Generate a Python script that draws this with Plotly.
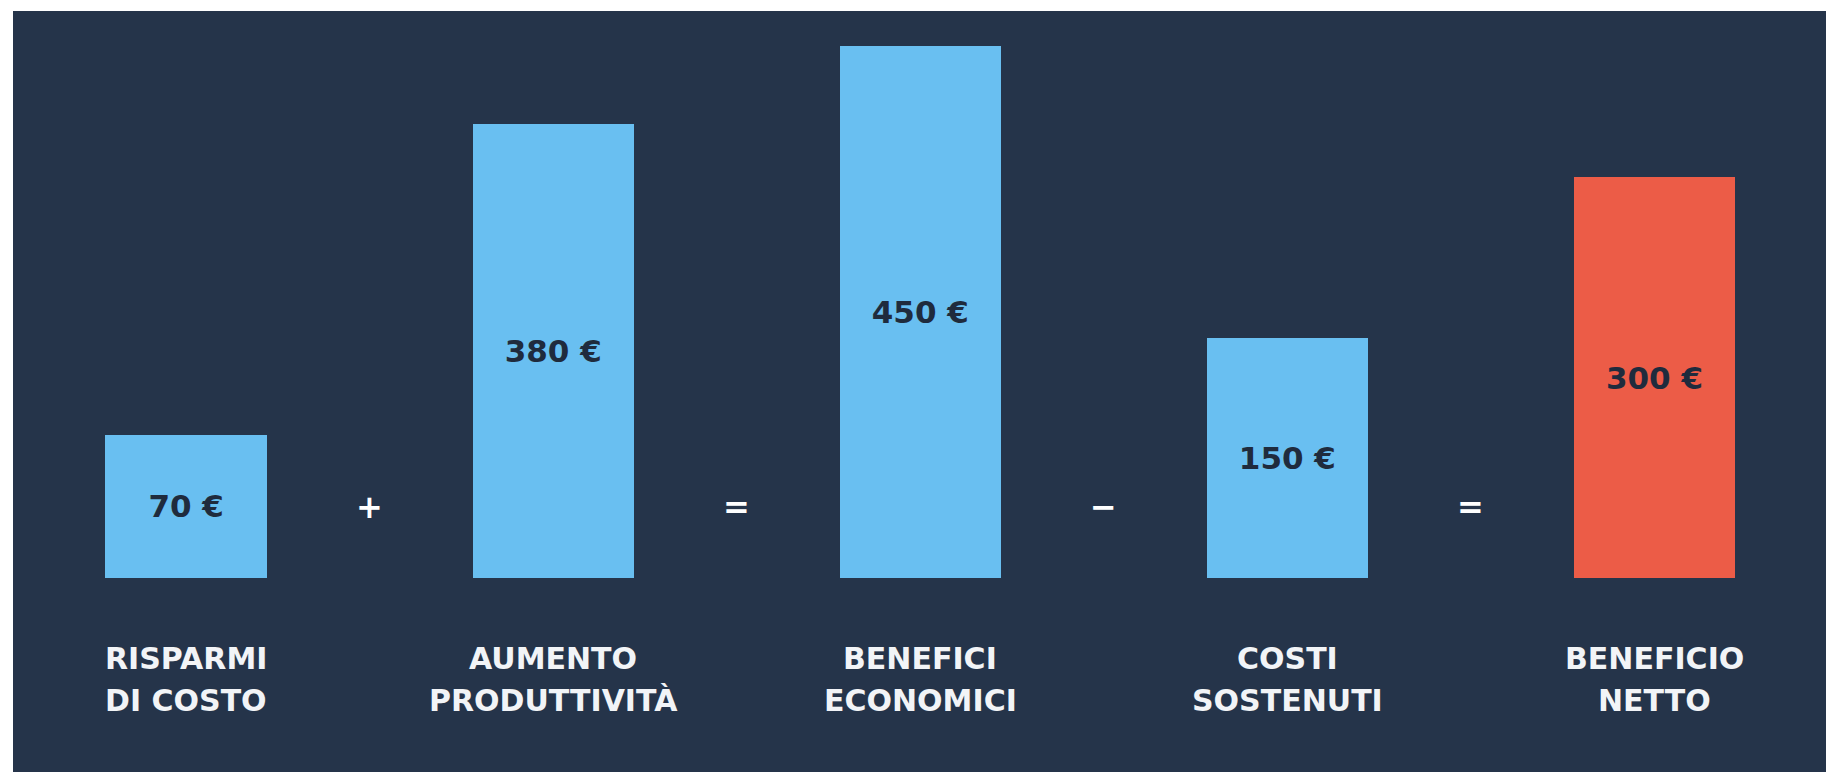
import plotly.graph_objects as go

# ---- data ----
categories = ["RISPARMI<br>DI COSTO", "AUMENTO<br>PRODUTTIVITÀ", "BENEFICI<br>ECONOMICI",
              "COSTI<br>SOSTENUTI", "BENEFICIO<br>NETTO"]
values = [70, 380, 450, 150, 300]                 # labelled amounts (€)
bar_heights = [121, 384, 450, 203, 339]           # drawn heights as they appear in the picture
value_labels = [f"{v} €" for v in values]
operators = ["+", "=", "−", "="]
bar_colors = ["#69BFF1", "#69BFF1", "#69BFF1", "#69BFF1", "#EC5C47"]

BG = "#25344A"
DARK_TEXT = "#1F2B3D"

x_idx = list(range(len(categories)))

fig = go.Figure()
fig.add_trace(go.Bar(
    x=x_idx,
    y=bar_heights,
    width=0.44,
    marker=dict(color=bar_colors, line=dict(width=0)),
    text=value_labels,
    textposition="inside",
    insidetextanchor="middle",
    textangle=0,
    constraintext="none",
    insidetextfont=dict(family="DejaVu Sans", size=31, color=DARK_TEXT, weight="bold"),
    hoverinfo="skip",
))

annotations = []
for i, cat in enumerate(categories):
    lines = cat.split("<br>")
    n = len(lines)
    for k, line in enumerate(lines):
        annotations.append(dict(
            x=i, y=-86, xref="x", yref="y", text=line, showarrow=False,
            xanchor="center", yanchor="middle", align="center",
            yshift=(n - 1) / 2 * 42 - k * 42,
            font=dict(family="DejaVu Sans", size=30, color="#F2F4F7", weight="bold"),
        ))
for i, op in enumerate(operators):
    annotations.append(dict(
        x=i + 0.5, y=60, xref="x", yref="y", text=op, showarrow=False,
        xanchor="center", yanchor="middle",
        font=dict(family="DejaVu Sans", size=32, color="#FFFFFF", weight="bold"),
    ))

fig.update_layout(
    width=1826, height=772,
    margin=dict(l=13, r=0, t=11, b=0),
    paper_bgcolor="#FFFFFF",
    plot_bgcolor=BG,
    showlegend=False,
    bargap=0,
    annotations=annotations,
    xaxis=dict(range=[-0.4718, 4.4673], visible=False, fixedrange=True),
    yaxis=dict(range=[-164.1, 479.6], visible=False, fixedrange=True),
)

fig.write_html(
    "out.html",
    config={"displayModeBar": False, "staticPlot": True},
    post_script="document.body.style.margin='0px';document.body.style.overflow='hidden';",
)
